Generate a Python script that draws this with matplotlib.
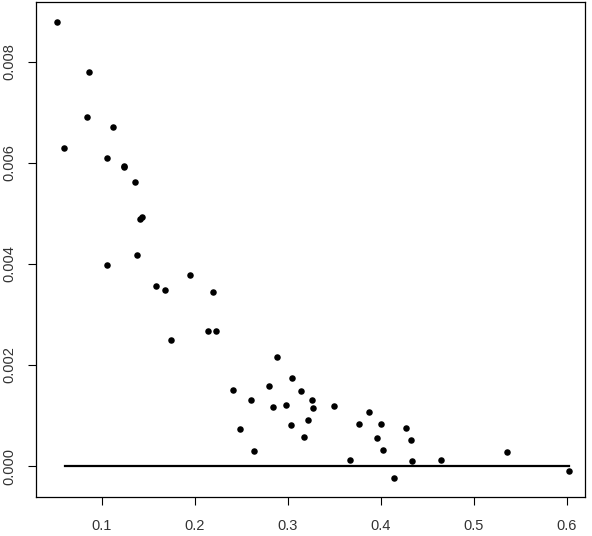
import matplotlib
matplotlib.use("Agg")
import matplotlib.pyplot as plt

plt.rcParams["font.family"] = ["Liberation Sans", "DejaVu Sans"]

# 散布図の点
x_vals = [0.0519, 0.0860, 0.0842, 0.1120, 0.0594, 0.1054, 0.1234, 0.1238,
          0.1355, 0.1412, 0.1434, 0.1377, 0.1054, 0.1585, 0.1681, 0.1950,
          0.2198, 0.1746, 0.2144, 0.2230, 0.2884, 0.3049, 0.2794, 0.3146,
          0.2413, 0.2608, 0.2844, 0.2980, 0.3030, 0.2489, 0.2640, 0.3264,
          0.3271, 0.3500, 0.3874, 0.3221, 0.3174, 0.3766, 0.4003, 0.4276,
          0.3963, 0.4330, 0.4028, 0.3670, 0.4340, 0.4652, 0.5363, 0.4146,
          0.6030]
y_vals = [0.00880, 0.00780, 0.00692, 0.00671, 0.00630, 0.00610, 0.00595, 0.00592,
          0.00562, 0.00490, 0.00493, 0.00417, 0.00399, 0.00356, 0.00348, 0.00378,
          0.00344, 0.00250, 0.00267, 0.00267, 0.00216, 0.00174, 0.00159, 0.00149,
          0.00150, 0.00130, 0.00117, 0.00121, 0.00081, 0.00073, 0.00029, 0.00131,
          0.00114, 0.00119, 0.00107, 0.00091, 0.00057, 0.00083, 0.00083, 0.00075,
          0.00055, 0.00051, 0.00031, 0.00011, 0.00009, 0.00011, 0.00027, -0.00024,
          -0.00009]

# 基準線 (y = 0)
line_x = [0.0600, 0.6030]
line_y = [0.0, 0.0]

x_ticks = [0.1, 0.2, 0.3, 0.4, 0.5, 0.6]
y_ticks = [0.000, 0.002, 0.004, 0.006, 0.008]

fig = plt.figure(figsize=(5.92, 5.36), dpi=100)
ax = fig.add_axes([0.0608, 0.0733, 0.9274, 0.9224])

ax.scatter(x_vals, y_vals, s=22, color="black", zorder=3, linewidths=0)
ax.plot(line_x, line_y, color="black", linewidth=1.6, zorder=2)

ax.set_xlim(0.029, 0.6197)
ax.set_ylim(-0.000608, 0.009182)

ax.set_xticks(x_ticks)
ax.set_xticklabels([f"{v:.1f}" for v in x_ticks])
ax.set_yticks(y_ticks)
ax.set_yticklabels([f"{v:.3f}" for v in y_ticks], rotation=90, va="center")

ax.tick_params(axis="both", direction="out", length=5.8, width=0.8,
               labelsize=10.5, colors="black", labelcolor="#333333")
ax.tick_params(axis="x", pad=10.5)
ax.tick_params(axis="y", pad=8.5)

for sp in ax.spines.values():
    sp.set_linewidth(0.9)

fig.savefig("out.png", dpi=100)
